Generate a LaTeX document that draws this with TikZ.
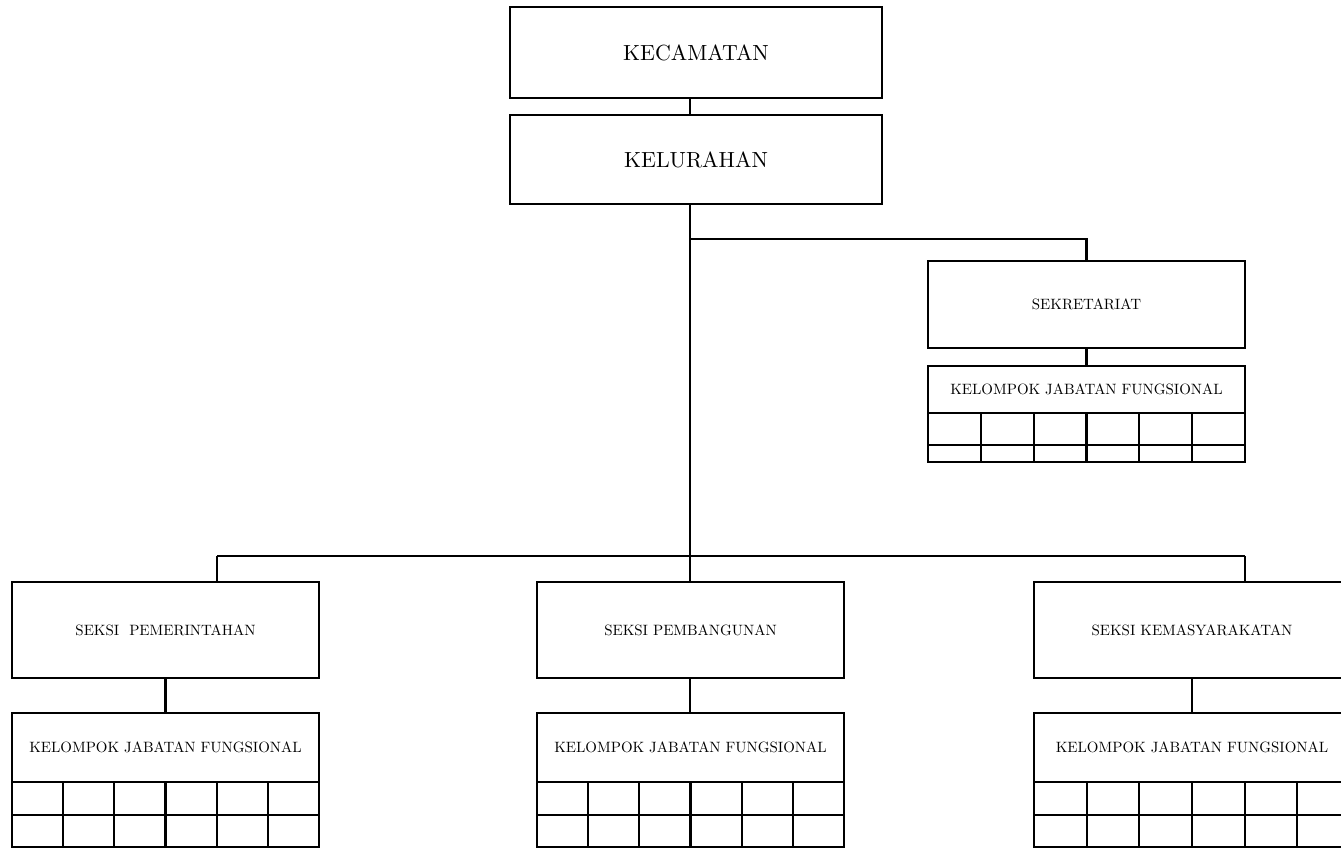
\documentclass[tikz,border=0pt]{standalone}
\usepackage{fontspec}
\setmainfont{lmroman10-regular}[Extension=.otf]
\tikzset{
  orgbox/.style={draw, line width=2.2pt, inner sep=0pt, outer sep=0pt, anchor=north west,
    font=\fontsize{14.95}{18}\selectfont},
  bigbox/.style={orgbox, font=\fontsize{21.9}{26}\selectfont},
  link/.style={line width=2.2pt},
}
% name, left, top, width, header height, row1 height, row2 height
\newcommand\kjfblock[7]{%
  \node[orgbox, minimum width=#4pt, minimum height=#5pt] (#1) at (#2,#3) {KELOMPOK JABATAN FUNGSIONAL};
  \draw[link] (#1.south west) rectangle ++(#4,#6+#7);
  \draw[link] ([shift={(0,#6)}]#1.south west) -- ++(#4,0);
  \foreach \i in {1,...,5}{\draw[link] ([shift={(\i*#4/6,0)}]#1.south west) -- ++(0,#6+#7);}
}
\begin{document}
\begin{tikzpicture}[x=1pt,y=-1pt]
\clip (0,0) rectangle (1341,848);
\fill[white] (0,0) rectangle (1341,848);

\node[bigbox, minimum width=372pt, minimum height=91pt] (kec) at (510,7) {KECAMATAN};
\node[bigbox, minimum width=372pt, minimum height=89pt] (kel) at (510,115) {KELURAHAN};
\node[orgbox, minimum width=317pt, minimum height=87pt] (sek) at (928,261) {SEKRETARIAT};
\kjfblock{kjfs}{928}{366}{317}{47}{32}{17}

\node[orgbox, minimum width=307pt, minimum height=96pt] (pem) at (12,582) {SEKSI\ \ PEMERINTAHAN};
\node[orgbox, minimum width=307pt, minimum height=96pt] (pbg) at (537,582) {SEKSI PEMBANGUNAN};
\node[orgbox, minimum width=316pt, minimum height=96pt] (kms) at (1034,582) {SEKSI KEMASYARAKATAN};
\kjfblock{kjfa}{12}{713}{307}{69}{33}{32}
\kjfblock{kjfb}{537}{713}{307}{69}{33}{32}
\kjfblock{kjfc}{1034}{713}{316}{69}{33}{32}

\coordinate (spine) at (690,0);
\coordinate (br) at (690,239);
\coordinate (busc) at (690,556);
\coordinate (dl) at (217,556);
\coordinate (dr) at (1245,556);

\draw[link] (kec.south -| spine) -- (kel.north -| spine);
\draw[link] (kel.south -| spine) -- (busc);
\draw[link] (br) -| (sek.north);
\draw[link] (sek.south) -- (kjfs.north);
\draw[link] (dl) -- (dr);
\draw[link] (dl) -- (dl |- pem.north);
\draw[link] (busc) -- (busc |- pbg.north);
\draw[link] (dr) -- (dr |- kms.north);
\draw[link] (pem.south) -- (kjfa.north);
\draw[link] (pbg.south -| busc) -- (kjfb.north -| busc);
\draw[link] (kms.south) -- (kjfc.north);
\end{tikzpicture}
\end{document}
